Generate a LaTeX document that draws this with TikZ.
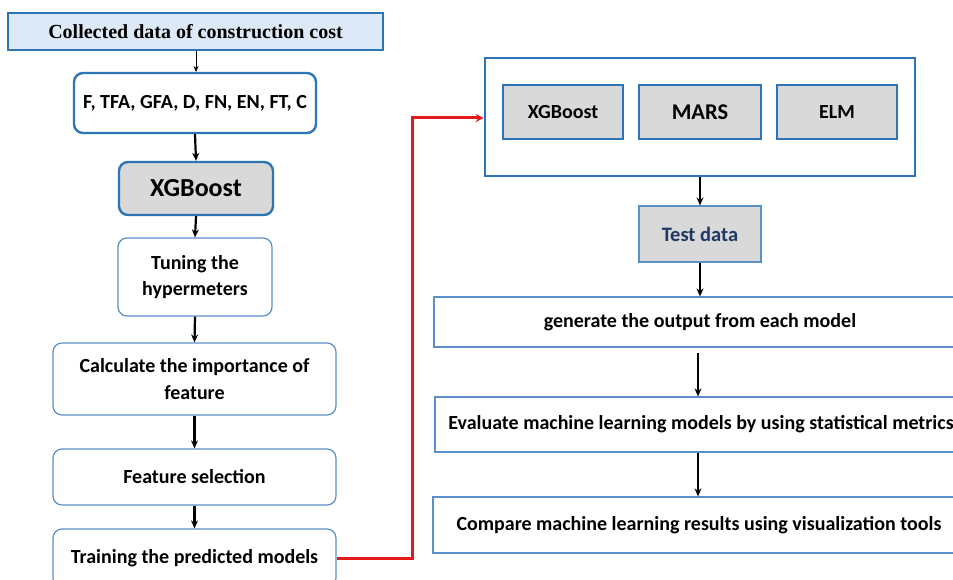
\documentclass[tikz,border=0pt]{standalone}
\usepackage{fontspec}
\setmainfont{Carlito}
\newfontfamily\titlefont{Liberation Serif}
\usetikzlibrary{arrows.meta}
\definecolor{bdthick}{HTML}{2E75B6}
\definecolor{bdthin}{HTML}{5B8FC9}
\definecolor{grayfill}{HTML}{D9D9D9}
\definecolor{lightblue}{HTML}{DDE9F6}
\definecolor{navy}{HTML}{1F3864}
\definecolor{redline}{HTML}{E41A1A}
\tikzset{
  txt/.style={font=\fontsize{20}{26.5}\selectfont\bfseries, text=black, align=center, inner sep=0pt},
  rbox/.style={txt, draw=bdthin, line width=1.2pt, rounded corners=9pt, fill=white},
  rboxthick/.style={txt, draw=bdthick, line width=2.4pt, rounded corners=9pt, fill=white},
  sbox/.style={txt, draw=bdthin, line width=1.2pt, fill=white},
  gbox/.style={txt, draw=bdthick, line width=1.8pt, fill=grayfill},
  arr/.style={-{Stealth[length=8pt,width=7pt]}, line width=2.2pt, black},
  thinarr/.style={-{Stealth[length=6pt,width=5pt]}, line width=1pt, black},
}
\begin{document}
\begin{tikzpicture}[x=1pt,y=-1pt]
\useasboundingbox (0,0) rectangle (953,580);
\clip (0,0) rectangle (953,580);
\fill[white] (0,0) rectangle (953,580);

% left column
\node[draw=bdthick, line width=1.3pt, fill=lightblue, minimum width=375pt, minimum height=37pt,
      font=\titlefont\fontsize{20}{24}\selectfont\bfseries, inner sep=0pt] (top) at (195.5,31.5) {Collected data of construction cost};
\node[rboxthick, minimum width=242pt, minimum height=60pt] (feat) at (195,103) {F, TFA, GFA, D, FN, EN, FT, C};
\node[rboxthick, fill=grayfill, minimum width=154pt, minimum height=53pt, font=\fontsize{26}{30}\selectfont\bfseries] (xgb) at (196,188.5) {XGBoost};
\node[rbox, minimum width=154pt, minimum height=78pt] (tune) at (195,277) {Tuning the\\hypermeters};
\node[rbox, minimum width=283pt, minimum height=72pt] (calc) at (194.5,379) {Calculate the importance of\\feature};
\node[rbox, minimum width=283pt, minimum height=56pt] (fsel) at (194.5,477) {Feature selection};
\node[rbox, minimum width=283pt, minimum height=58pt] (train) at (194.5,558) {Training the predicted models};

\draw[thinarr] (196,0 |- top.south) -- (196,72);
\draw[arr] (feat.south) -- (xgb.north);
\draw[arr] (xgb.south) -- (tune.north);
\draw[arr] (tune.south) -- (calc.north);
\draw[arr] (calc.south) -- (fsel.north);
\draw[arr] (fsel.south) -- (train.north);

% right column
\node[draw=bdthick, line width=2.6pt, fill=white, minimum width=430pt, minimum height=118pt, inner sep=0pt] (models) at (700,117) {};
\node[gbox, minimum width=120pt, minimum height=54pt] (m1) at (563,112) {XGBoost};
\node[gbox, minimum width=122pt, minimum height=54pt, font=\fontsize{22.5}{26}\selectfont\bfseries] (m2) at (700,112) {MARS};
\node[gbox, minimum width=120pt, minimum height=54pt] (m3) at (837,112) {ELM};

\node[gbox, draw=bdthin, line width=1.2pt, minimum width=122pt, minimum height=56pt, text=navy,
      font=\fontsize{20.5}{24}\selectfont\bfseries] (test) at (700,234) {Test data};

\node[sbox, minimum width=532pt, minimum height=50pt] (gen) at (700,322) {generate the output from each model};
\node[sbox, minimum width=532pt, minimum height=55pt] (eval) at (701,424.5) {Evaluate machine learning models by using statistical metrics};
\node[sbox, minimum width=532pt, minimum height=56pt] (comp) at (699,525) {Compare machine learning results using visualization tools};

\draw[arr] (models.south -| test) -- (test.north);
\draw[arr] (test.south) -- (test |- gen.north);
\draw[arr] ([yshift=-5pt]gen.south -| 698,0) -- (698,0 |- eval.north);
\draw[arr] (eval.south -| 698,0) -- (698,0 |- comp.north);

% red connector
\coordinate (bend1) at (412,558);
\draw[redline, line width=3pt, -{Stealth[length=8pt,width=8pt]}]
  (train.east) -- (bend1) -- (412,118) -- (models.west |- 0,118);
\end{tikzpicture}
\end{document}
